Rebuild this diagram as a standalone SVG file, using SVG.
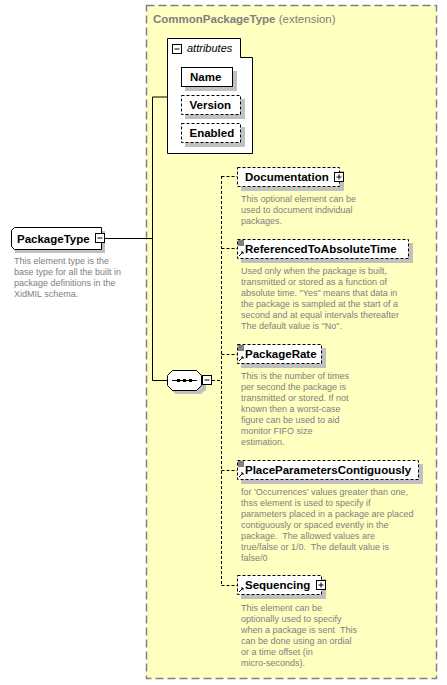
<svg xmlns="http://www.w3.org/2000/svg" width="447" height="685" viewBox="0 0 447 685">
<style>
.lbl{font-family:"Liberation Sans",Arial,sans-serif;font-weight:bold;font-size:11.5px;fill:#000}
.desc{font-family:"Liberation Sans",Arial,sans-serif;font-size:9px;fill:#808080;white-space:pre}
.box{fill:#fff;stroke:#000;stroke-width:1}
.opt{fill:#fff;stroke:#000;stroke-width:1;stroke-dasharray:3,2}
.shd{fill:#c0c0c0}
.btn{fill:#fff;stroke:#000;stroke-width:1}
.con{stroke:#000;stroke-width:1;fill:none}
.dcon{stroke:#000;stroke-width:1;fill:none;stroke-dasharray:3,2}
.ico{stroke:#000;stroke-width:1;fill:none}
</style>
<rect x="0" y="0" width="447" height="685" fill="#fff"/>
<g id="CommonPackageType">
<rect x="146.5" y="5.5" width="290" height="673" fill="#ffffc0" stroke="#808080" stroke-width="1.5" stroke-dasharray="8,4"/>
<text x="153" y="23" font-family="'Liberation Sans',Arial,sans-serif" font-size="11.5" fill="#808080"><tspan font-weight="bold">CommonPackageType</tspan> (extension)</text>
</g>
<g id="connectors">
<path class="con" d="M105,238.5H152.5M152.5,97V380.5M152.5,97H167.5M152.5,380.5H167.5"/>
<path class="dcon" d="M212,380.5H221.5M221.5,176V585M221.5,176.5H237M221.5,248.5H237M221.5,354.5H237M221.5,470.5H237M221.5,585.5H237"/>
</g>
<g id="attributes">
<path class="box" d="M167.5,38.5H240.5V57.5H252.5V153.5H167.5Z"/>
<rect class="btn" x="172.5" y="44.5" width="9" height="9"/>
<path class="ico" d="M174.5,49H179.5"/>
<text x="187" y="52" font-family="'Liberation Sans',Arial,sans-serif" font-style="italic" font-size="11" fill="#000">attributes</text>
</g>
<g id="Name">
<rect class="shd" x="185" y="71" width="52" height="20"/>
<rect class="box" x="181.5" y="67.5" width="51" height="19"/>
<text class="lbl" x="190" y="81" font-size="11">Name</text>
</g>
<g id="Version">
<rect class="shd" x="185" y="99" width="60" height="20"/>
<rect class="opt" x="181.5" y="95.5" width="59" height="19"/>
<text class="lbl" x="189.5" y="109" font-size="11">Version</text>
</g>
<g id="Enabled">
<rect class="shd" x="185" y="127" width="60" height="20"/>
<rect class="opt" x="181.5" y="123.5" width="59" height="19"/>
<text class="lbl" x="189.5" y="137" font-size="11">Enabled</text>
</g>
<g id="PackageType">
<path class="shd" d="M18,231H105V253H15V234Z"/>
<path class="box" d="M14.5,227.5H101.5V249.5H14.5L11.5,246.5V230.5Z"/>
<text class="lbl" x="17" y="243">PackageType</text>
<rect class="btn" x="95.5" y="233.5" width="9" height="9"/>
<path class="ico" d="M97.5,238H102.5"/>
<text class="desc" x="14" y="264">This element type is the</text>
<text class="desc" x="14" y="275">base type for all the built in</text>
<text class="desc" x="14" y="286">package definitions in the</text>
<text class="desc" x="14" y="297">XidMIL schema.</text>
</g>
<g id="sequence">
<path class="shd" d="M176,374H201L206,379V390L201,394H176L171,390V379Z"/>
<path class="box" d="M172.5,370.5H196.5L201.5,375.5V385.5L196.5,390.5H172.5L167.5,385.5V375.5Z"/>
<path class="ico" d="M172,380.5H197"/>
<rect x="177" y="379" width="3" height="3" fill="#000"/>
<rect x="183" y="379" width="3" height="3" fill="#000"/>
<rect x="189" y="379" width="3" height="3" fill="#000"/>
<rect class="btn" x="202.5" y="375.5" width="9" height="9"/>
<path class="ico" d="M204.5,380H209.5"/>
</g>
<g id="Documentation">
<rect class="shd" x="241" y="171" width="103" height="20"/>
<rect class="opt" x="237.5" y="167.5" width="102" height="19"/>
<text class="lbl" x="245" y="181">Documentation</text>
<rect class="btn" x="334.5" y="172.5" width="9" height="9"/>
<path class="ico" d="M336.5,177H341.5M339,174.5V179.5"/>
<text class="desc" x="241" y="202">This optional element can be</text>
<text class="desc" x="241" y="213">used to document individual</text>
<text class="desc" x="241" y="224">packages.</text>
</g>
<g id="ReferencedToAbsoluteTime">
<rect class="shd" x="241" y="243" width="172" height="20"/>
<rect class="opt" x="237.5" y="239.5" width="171" height="19"/>
<path class="ico" d="M238,241H244M238,243H244M238,245H244M239,256L243,252M241,252H243V254"/>
<text class="lbl" x="245" y="253">ReferencedToAbsoluteTime</text>
<text class="desc" x="241" y="274">Used only when the package is built,</text>
<text class="desc" x="241" y="285">transmitted or stored as a function of</text>
<text class="desc" x="241" y="296">absolute time. "Yes" means that data in</text>
<text class="desc" x="241" y="307">the package is sampled at the start of a</text>
<text class="desc" x="241" y="318">second and at equal intervals thereafter</text>
<text class="desc" x="241" y="329">The default value is "No".</text>
</g>
<g id="PackageRate">
<rect class="shd" x="241" y="348" width="85" height="20"/>
<rect class="opt" x="237.5" y="344.5" width="84" height="19"/>
<path class="ico" d="M238,346H244M238,348H244M238,350H244M239,361L243,357M241,357H243V359"/>
<text class="lbl" x="245" y="358">PackageRate</text>
<text class="desc" x="241" y="379">This is the number of times</text>
<text class="desc" x="241" y="390">per second the package is</text>
<text class="desc" x="241" y="401">transmitted or stored. If not</text>
<text class="desc" x="241" y="412">known then a worst-case</text>
<text class="desc" x="241" y="423">figure can be used to aid</text>
<text class="desc" x="241" y="434">monitor FIFO size</text>
<text class="desc" x="241" y="445">estimation.</text>
</g>
<g id="PlaceParametersContiguously">
<rect class="shd" x="241" y="464" width="182" height="20"/>
<rect class="opt" x="237.5" y="460.5" width="181" height="19"/>
<path class="ico" d="M238,462H244M238,464H244M238,466H244M239,477L243,473M241,473H243V475"/>
<text class="lbl" x="245" y="474">PlaceParametersContiguously</text>
<text class="desc" x="241" y="495">for 'Occurrences' values greater than one,</text>
<text class="desc" x="241" y="506">thss element is used to specify if</text>
<text class="desc" x="241" y="517">parameters placed in a package are placed</text>
<text class="desc" x="241" y="528">contiguously or spaced evently in the</text>
<text class="desc" x="241" y="539" xml:space="preserve">package.  The allowed values are</text>
<text class="desc" x="241" y="550" xml:space="preserve">true/false or 1/0.  The default value is</text>
<text class="desc" x="241" y="561">false/0</text>
</g>
<g id="Sequencing">
<rect class="shd" x="241" y="579" width="85" height="20"/>
<rect class="opt" x="237.5" y="575.5" width="84" height="19"/>
<path class="ico" d="M239,592L243,588M241,588H243V590"/>
<text class="lbl" x="245" y="589">Sequencing</text>
<rect class="btn" x="316.5" y="580.5" width="9" height="9"/>
<path class="ico" d="M318.5,585H323.5M321,582.5V587.5"/>
<text class="desc" x="241" y="611">This element can be</text>
<text class="desc" x="241" y="622">optionally used to specify</text>
<text class="desc" x="241" y="633" xml:space="preserve">when a package is sent  This</text>
<text class="desc" x="241" y="644">can be done using an ordial</text>
<text class="desc" x="241" y="655">or a time offset (in</text>
<text class="desc" x="241" y="666">micro-seconds).</text>
</g>
</svg>
